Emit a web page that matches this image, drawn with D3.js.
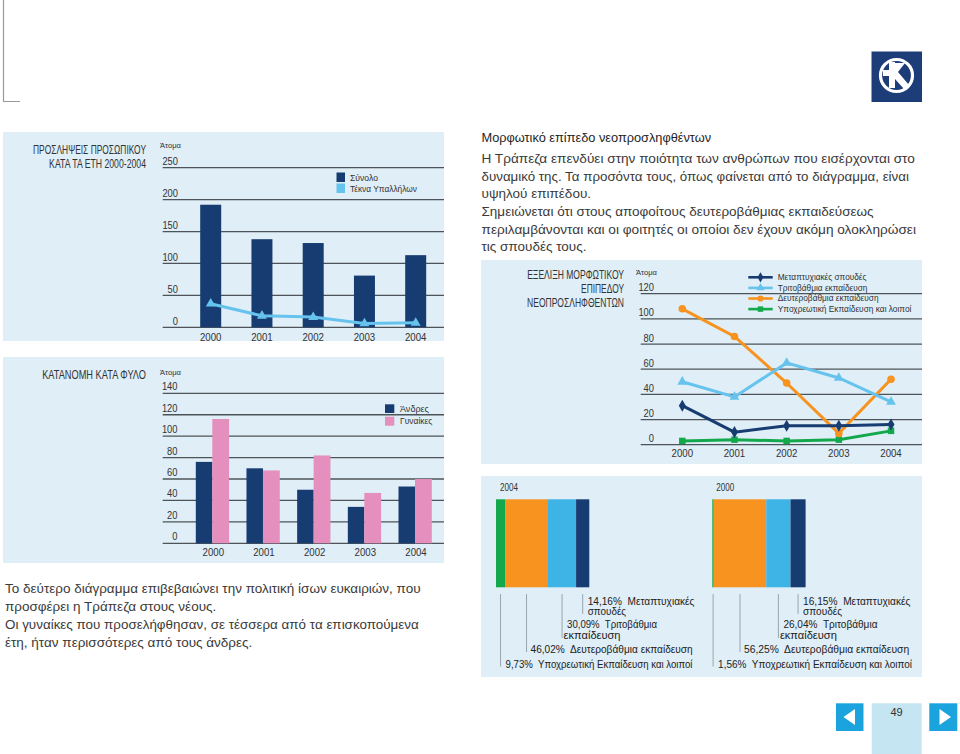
<!DOCTYPE html>
<html><head><meta charset="utf-8">
<script src="https://cdn.jsdelivr.net/npm/d3@7"></script>
<style>body{margin:0;background:#fff}svg{display:block}text{font-family:"Liberation Sans",Arial,sans-serif;white-space:pre}</style>
</head><body>
<svg id="c" width="960" height="754"></svg>
<script>
// ---------- DATA ----------
const years = ["2000","2001","2002","2003","2004"];
const totalHires = [192,138,132,81,113];
const childrenHires = [37,18,16,6,7];
const men = [76,70,50,34,53];
const women = [116,68,82,47,60];
const eduPostgrad = [31,10,15,15,16];
const eduTertiary = [50,38,65,53,34];
const eduSecondary = [108,86,49,9,52];
const eduCompulsory = [3,4,3,4,11];
const ticks1 = [0,50,100,150,200,250];
const ticks2 = [0,20,40,60,80,100,120,140];
const ticks3 = [0,20,40,60,80,100,120];
const share2004 = [9.73,46.02,30.09,14.16];
const share2000 = [1.56,56.25,26.04,16.15];
const shareLabels2004 = [["9,73%  Υποχρεωτική Εκπαίδευση και λοιποί"],["46,02%  Δευτεροβάθμια εκπαίδευση"],["30,09%  Τριτοβάθμια","εκπαίδευση"],["14,16%  Μεταπτυχιακές","σπουδές"]];
const shareLabels2000 = [["1,56%  Υποχρεωτική Εκπαίδευση και λοιποί"],["56,25%  Δευτεροβάθμια εκπαίδευση"],["26,04%  Τριτοβάθμια","εκπαίδευση"],["16,15%  Μεταπτυχιακές","σπουδές"]];
const eduNames = ["Μεταπτυχιακές σπουδές","Τριτοβάθμια εκπαίδευση","Δευτεροβάθμια εκπαίδευση","Υποχρεωτική Εκπαίδευση και λοιποί"];

// ---------- STYLE ----------
const NAVY="#173c72", LBLUE="#66c3ee", SBLUE="#3eb3e6", ORANGE="#f7931e", GREEN="#13a84b", PINK="#e48fbd", BG="#dfeef7", GRID="#4d5459", TXT="#333";
const svg = d3.select("#c");

// corner marks
svg.append("path").attr("d","M3.5,0V101.5H20").attr("fill","none").attr("stroke","#999").attr("stroke-width",1.2);

// logo
const lg = svg.append("g");
lg.append("rect").attr("x",871.5).attr("y",51.5).attr("width",50.5).attr("height",50.5).attr("fill","#1d3d78");
lg.append("circle").attr("cx",896.5).attr("cy",75.5).attr("r",16).attr("fill","none").attr("stroke","#fff").attr("stroke-width",3.2);
lg.append("path").attr("d","M889,62H895V88H889Z M883,70H895V76H883Z M895,63H905L898,72L909,85L904,89L895,79Z").attr("fill","#fff");

// text helper: y is the visual centre of the line; opt.len condenses the text horizontally to that width
function txt(g,x,y,s,opt={}){
  const size=opt.size||13;
  const t=g.append("text").attr("x",0).attr("y",0)
    .attr("font-size",size).attr("fill",opt.fill||TXT).attr("text-anchor",opt.anchor||"start").text(s);
  if(opt.weight) t.attr("font-weight",opt.weight);
  let sx=1;
  if(opt.len){
    const nat=t.node().getComputedTextLength();
    if(nat>0) sx=opt.len/nat;
  }
  t.attr("transform",`translate(${x},${y+size*0.35}) scale(${sx},1)`);
  return t;
}
const numLen = s => String(s).length*5.2;

// ---------- CHART 1 ----------
{
  const g=svg.append("g");
  g.append("rect").attr("x",3).attr("y",132).attr("width",441).attr("height",209).attr("fill",BG);
  txt(g,146,149.5,"ΠΡΟΣΛΗΨΕΙΣ ΠΡΟΣΩΠΙΚΟΥ",{anchor:"end",size:12,len:113});
  txt(g,146,164,"ΚΑΤΑ ΤΑ ΕΤΗ 2000-2004",{anchor:"end",size:12,len:97});
  txt(g,160,145.5,"Άτομα",{size:8,len:21});
  const y=d3.scaleLinear().domain([0,250]).range([327.3,167.7]);
  const x=d3.scalePoint().domain(years).range([210.7,415.7]);
  ticks1.forEach(v=>{
    g.append("line").attr("x1",162.7).attr("x2",444).attr("y1",y(v)).attr("y2",y(v)).attr("stroke",GRID).attr("stroke-width",1.3);
    txt(g,178,y(v)-6.3,v,{anchor:"end",size:11,len:numLen(v)});
  });
  g.selectAll(".b").data(totalHires).enter().append("rect")
    .attr("x",(d,i)=>x(years[i])-10.5).attr("width",21).attr("y",d=>y(d)).attr("height",d=>y(0)-y(d)).attr("fill",NAVY);
  const line=d3.line().x((d,i)=>x(years[i])).y(d=>y(d));
  g.append("path").datum(childrenHires).attr("d",line).attr("fill","none").attr("stroke",LBLUE).attr("stroke-width",3);
  g.selectAll(".m").data(childrenHires).enter().append("path")
    .attr("d",d3.symbol(d3.symbolTriangle,42)).attr("transform",(d,i)=>`translate(${x(years[i])},${y(d)})`).attr("fill",LBLUE);
  years.forEach(yr=>txt(g,x(yr),336.8,yr,{anchor:"middle",size:11,len:21.5}));
  g.append("rect").attr("x",336.5).attr("y",172.5).attr("width",8.5).attr("height",9.5).attr("fill",NAVY);
  g.append("rect").attr("x",336.5).attr("y",183.5).attr("width",8.5).attr("height",9.5).attr("fill",LBLUE);
  txt(g,350,177.5,"Σύνολο",{size:9.5,len:28});
  txt(g,350,188.5,"Τέκνα Υπαλλήλων",{size:9.5,len:67});
}

// ---------- CHART 2 ----------
{
  const g=svg.append("g");
  g.append("rect").attr("x",3).attr("y",357).attr("width",441).attr("height",206).attr("fill",BG);
  txt(g,146,375,"ΚΑΤΑΝΟΜΗ ΚΑΤΑ ΦΥΛΟ",{anchor:"end",size:12,len:104});
  txt(g,160,372.5,"Άτομα",{size:8,len:21});
  const y=d3.scaleLinear().domain([0,140]).range([543.3,393.3]);
  const x=d3.scalePoint().domain(years).range([212.3,415]);
  ticks2.forEach(v=>{
    g.append("line").attr("x1",162.7).attr("x2",444).attr("y1",y(v)).attr("y2",y(v)).attr("stroke",GRID).attr("stroke-width",1.3);
    txt(g,177.5,y(v)-6.8,v,{anchor:"end",size:11,len:numLen(v)});
  });
  g.selectAll(".m").data(men).enter().append("rect")
    .attr("x",(d,i)=>x(years[i])-16.5).attr("width",16.5).attr("y",d=>y(d)).attr("height",d=>y(0)-y(d)).attr("fill",NAVY);
  g.selectAll(".w").data(women).enter().append("rect")
    .attr("x",(d,i)=>x(years[i])).attr("width",16.8).attr("y",d=>y(d)).attr("height",d=>y(0)-y(d)).attr("fill",PINK);
  years.forEach(yr=>txt(g,x(yr)+1,552.5,yr,{anchor:"middle",size:11,len:21.5}));
  g.append("rect").attr("x",385).attr("y",404.3).attr("width",9.3).attr("height",8.7).attr("fill",NAVY);
  g.append("rect").attr("x",385).attr("y",416.7).attr("width",9.3).attr("height",9).attr("fill",PINK);
  txt(g,400,408.5,"Άνδρες",{size:9.5,len:29});
  txt(g,400,421,"Γυναίκες",{size:9.5,len:32.5});
}

// ---------- TEXT BLOCKS ----------
{
  const g=svg.append("g");
  txt(g,481.5,137.5,"Μορφωτικό επίπεδο νεοπροσληφθέντων",{size:13.5,fill:"#1e1e1e",len:230});
  const p1=["Η Τράπεζα επενδύει στην ποιότητα των ανθρώπων που εισέρχονται στο",
  "δυναμικό της. Τα προσόντα τους, όπως φαίνεται από το διάγραμμα, είναι",
  "υψηλού επιπέδου.",
  "Σημειώνεται ότι στους αποφοίτους δευτεροβάθμιας εκπαιδεύσεως",
  "περιλαμβάνονται και οι φοιτητές οι οποίοι δεν έχουν ακόμη ολοκληρώσει",
  "τις σπουδές τους."];
  const lens1=[434,428,null,null,435,null];
  p1.forEach((s,i)=>txt(g,481.5,158.5+i*17.6,s,{size:13.5,fill:"#3a3a3a",len:lens1[i]||null}));
  const p2=["Το δεύτερο διάγραμμα επιβεβαιώνει την πολιτική ίσων ευκαιριών, που",
  "προσφέρει η Τράπεζα στους νέους.",
  "Οι γυναίκες που προσελήφθησαν, σε τέσσερα από τα επισκοπούμενα",
  "έτη, ήταν περισσότερες από τους άνδρες."];
  const lens2=[416,null,414,null];
  p2.forEach((s,i)=>txt(g,5,588.5+i*18,s,{size:13.5,fill:"#3a3a3a",len:lens2[i]||null}));
}

// ---------- CHART 3 ----------
{
  const g=svg.append("g");
  g.append("rect").attr("x",481).attr("y",260).attr("width",441).attr("height",204).attr("fill",BG);
  txt(g,624,274.5,"ΕΞΕΛΙΞΗ ΜΟΡΦΩΤΙΚΟΥ",{anchor:"end",size:12,len:97});
  txt(g,624,288.5,"ΕΠΙΠΕΔΟΥ",{anchor:"end",size:12,len:43});
  txt(g,624,302.5,"ΝΕΟΠΡΟΣΛΗΦΘΕΝΤΩΝ",{anchor:"end",size:12,len:97});
  txt(g,636,272.5,"Άτομα",{size:8,len:21});
  const y=d3.scaleLinear().domain([0,120]).range([444.7,293.7]);
  const x=d3.scalePoint().domain(years).range([682.3,891]);
  ticks3.forEach(v=>{
    g.append("line").attr("x1",640.7).attr("x2",922).attr("y1",y(v)).attr("y2",y(v)).attr("stroke",GRID).attr("stroke-width",1.3);
    txt(g,654,y(v)-6.3,v,{anchor:"end",size:11,len:numLen(v)});
  });
  const series=[
    {v:eduPostgrad,c:NAVY,sym:d3.symbolDiamond,sz:42},
    {v:eduTertiary,c:LBLUE,sym:d3.symbolTriangle,sz:42},
    {v:eduSecondary,c:ORANGE,sym:d3.symbolCircle,sz:45},
    {v:eduCompulsory,c:GREEN,sym:d3.symbolSquare,sz:42}];
  const line=d3.line().x((d,i)=>x(years[i])).y(d=>y(d));
  [3,2,1,0].forEach(k=>{
    const s=series[k];
    g.append("path").datum(s.v).attr("d",line).attr("fill","none").attr("stroke",s.c).attr("stroke-width",3);
    g.selectAll(null).data(s.v).enter().append("path").attr("d",d3.symbol(s.sym,s.sz))
      .attr("transform",(d,i)=>`translate(${x(years[i])},${y(d)})`).attr("fill",s.c);
  });
  years.forEach(yr=>txt(g,x(yr),453.5,yr,{anchor:"middle",size:11,len:21.5}));
  const legLens=[89,90,101,134];
  series.forEach((s,k)=>{
    const ly=277.3+k*10.6;
    g.append("line").attr("x1",748.3).attr("x2",772.7).attr("y1",ly).attr("y2",ly).attr("stroke",s.c).attr("stroke-width",2.6);
    g.append("path").attr("d",d3.symbol(s.sym,30)).attr("transform",`translate(760.5,${ly})`).attr("fill",s.c);
    txt(g,777.7,ly,eduNames[k],{size:8.5,len:legLens[k]});
  });
}

// ---------- CHART 4 ----------
{
  const g=svg.append("g");
  g.append("rect").attr("x",481).attr("y",476).attr("width",441).attr("height",201).attr("fill",BG);
  const cols=[GREEN,ORANGE,SBLUE,NAVY];
  const lineEnds=[666.5,652,638,614];
  const rowY=[[664],[649.3],[624.6,635.4],[601.4,611.9]];
  const dx=[[5],[4],[5,1.5],[5,5]];
  function stack(x0,label,shares,labels,lens){
    txt(g,x0+4,487.5,label,{size:10.5,len:18});
    const x=d3.scaleLinear().domain([0,100]).range([x0,x0+93.3]);
    let acc=0;
    shares.forEach((s,i)=>{
      const a=acc; acc+=s;
      g.append("rect").attr("x",x(a)).attr("width",x(acc)-x(a)).attr("y",499.3).attr("height",88).attr("fill",cols[i]);
      const cx=x(a)+(x(acc)-x(a))/2;
      const lx=Math.max(cx,x0+0.8);
      g.append("line").attr("x1",lx).attr("x2",lx).attr("y1",594).attr("y2",lineEnds[i]).attr("stroke","#98a6b0").attr("stroke-width",1);
      labels[i].forEach((t,j)=>txt(g,lx+dx[i][j],rowY[i][j],t,{size:10.2,fill:"#222",len:lens[i][j]}));
    });
  }
  stack(496,"2004",share2004,shareLabels2004,[[187],[162],[90,57],[106.7,38.4]]);
  stack(712.3,"2000",share2000,shareLabels2000,[[194],[165],[94,57],[107.3,39]]);
}

// ---------- PAGE NAV ----------
{
  const g=svg.append("g");
  g.append("rect").attr("x",836).attr("y",703.3).attr("width",27.5).attr("height",27.7).attr("fill","#1ba3dd");
  g.append("path").attr("d","M843.5,717L855,709V725Z").attr("fill","#fff");
  g.append("rect").attr("x",871.7).attr("y",703.3).attr("width",50).attr("height",51).attr("fill","#c6e5f2");
  txt(g,896.5,712.5,"49",{anchor:"middle",size:11,fill:"#333"});
  g.append("rect").attr("x",929.3).attr("y",703.3).attr("width",28).attr("height",27.7).attr("fill","#1ba3dd");
  g.append("path").attr("d","M951,717L939.5,709V725Z").attr("fill","#fff");
}
</script>
</body></html>
